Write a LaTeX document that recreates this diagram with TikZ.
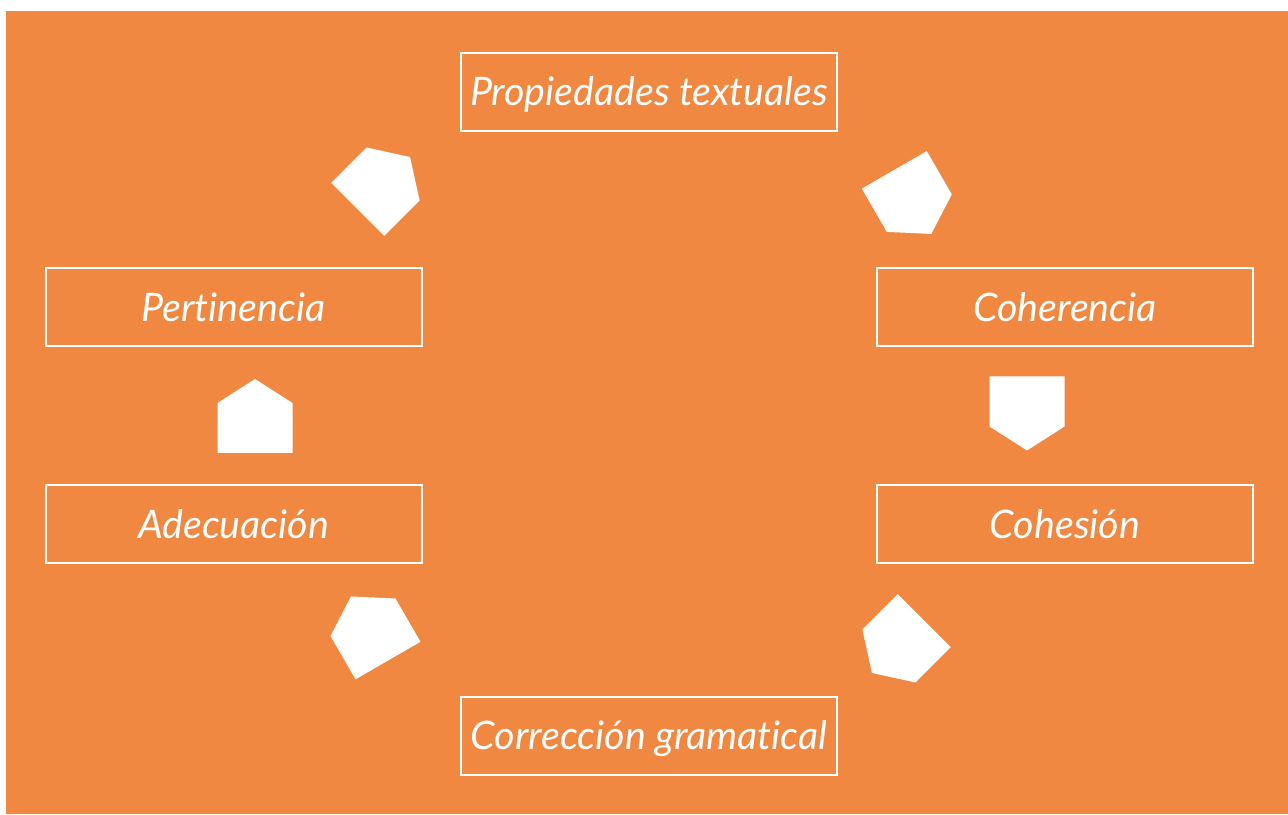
\documentclass[tikz,border=0pt]{standalone}
\usepackage{fontspec}
\setmainfont{Lato}[Ligatures={NoCommon}]
\usepackage{tikz}
\usetikzlibrary{positioning}
\definecolor{fondo}{HTML}{F08841}

\tikzset{
  prop/.style={draw=white, line width=1.5pt, text=white, inner sep=0pt,
    minimum width=282pt, minimum height=58.5pt,
    text height=21pt, text depth=0pt,
    font=\itshape\fontsize{29.5}{34}\selectfont},
  flecha/.style={fill=white}
}

\begin{document}
\begin{tikzpicture}[x=0.75pt,y=0.75pt]
    \useasboundingbox (0,0) rectangle (1288,814);
    \fill[fondo] (6,0) rectangle (1288,803);
    \node[prop] (prop) at (649,722) {Propiedades textuales};
    \node[prop] (per) at (233.5,506.5) {Pertinencia};
    \node[prop] (coh) at (1065,506.5) {Coherencia};
    \node[prop] (ade) at (233.5,289.5) {Adecuación};
    \node[prop] (cohs) at (1065,289.5) {Cohesión};
    \node[prop] (cor) at (649,78.5) {Corrección gramatical};
    \foreach \x/\y/\ang in {383.9/630.8/45, 912.8/612.1/-60, 1027/400.5/-90,
                            898.1/167.2/-135, 369.5/185.5/120, 255/398/90}
      \fill[flecha, shift={(\x,\y)}, rotate=\ang]
        (-37,-37.5) -- (13,-37.5) -- (37,0) -- (13,37.5) -- (-37,37.5) -- cycle;
  \end{tikzpicture}
\end{document}
